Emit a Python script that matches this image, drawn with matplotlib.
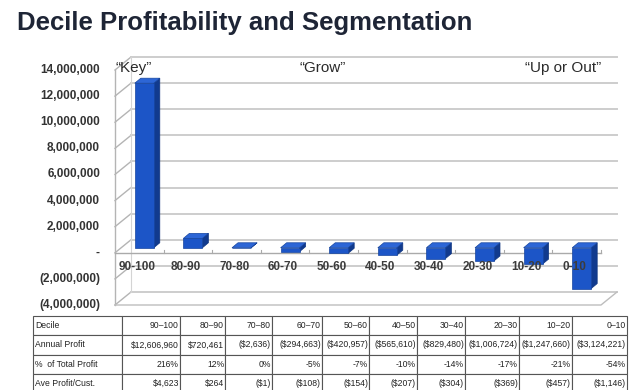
import numpy as np
import matplotlib
matplotlib.use("Agg")
import matplotlib.pyplot as plt
from matplotlib.patches import Polygon

plt.rcParams['font.family'] = ['Liberation Sans', 'DejaVu Sans']

# data
deciles = ["90-100", "80-90", "70-80", "60-70", "50-60", "40-50", "30-40", "20-30", "10-20", "0-10"]
profit = [12606960, 720461, -2636, -294663, -420957, -565610, -829480, -1006724, -1247660, -3124221]
pct_total = [216, 12, 0, -5, -7, -10, -14, -17, -21, -54]
ave_cust = [4623, 264, -1, -108, -154, -207, -304, -369, -457, -1146]
segments = ["\u201cKey\u201d", "\u201cGrow\u201d", "\u201cUp or Out\u201d"]
segment_pos = [0, 3.8, 8.44]
row_labels = ["Decile", "Annual Profit", "%  of Total Profit", "Ave Profit/Cust."]
y_ticks = [-4000000, -2000000, 0, 2000000, 4000000, 6000000, 8000000, 10000000, 12000000, 14000000]

W, H = 644, 390
fig = plt.figure(figsize=(W / 100, H / 100), dpi=100)


def box(l, t, r, b):
    return [l / W, 1 - b / H, (r - l) / W, (b - t) / H]


ax = fig.add_axes(box(115, 70, 601, 305))
ax.set_xlim(0, 10)
ax.set_ylim(-4e6, 14e6)
ax.axis("off")

# size of one pixel in data units
px_x = 10 / 486
px_y = 18e6 / 235

# back wall and floor
wx, wy = 16 * px_x, 13 * px_y
for v in y_ticks:
    ax.plot([0, wx], [v, v + wy], color="#b4b4b4", lw=1.0, clip_on=False, zorder=1)
    ax.plot([wx, 10 + wx], [v + wy, v + wy], color="#cdcdcd", lw=1.4, clip_on=False, zorder=1)
ax.plot([0, 0], [-4e6, 14e6], color="#b4b4b4", lw=1.0, clip_on=False, zorder=1)
ax.plot([wx, wx], [-4e6 + wy, 14e6 + wy], color="#d4d4d4", lw=0.8, clip_on=False, zorder=1)
ax.plot([0, 10, 10 + wx], [-4e6, -4e6, -4e6 + wy], color="#bdbdbd", lw=1.0, clip_on=False, zorder=1)

# category axis at zero
ax.plot([0, 10], [0, 0], color="#aaaaaa", lw=1.0, clip_on=False, zorder=2)
for k in range(1, 11):
    ax.plot([k, k], [0, 3 * px_y], color="#aaaaaa", lw=0.8, clip_on=False, zorder=2)

# pseudo 3d bars
bw = 19 * px_x
ox, oy = 5 * px_x, 5 * px_y
dx, dy = 6 * px_x, 5 * px_y
for i, v in enumerate(profit):
    x0 = i + 0.5 + ox - bw / 2
    lo, hi = min(0, v) + oy, max(0, v) + oy
    front = Polygon([(x0, lo), (x0 + bw, lo), (x0 + bw, hi), (x0, hi)], closed=True,
                    facecolor="#1c55c7", edgecolor="#16459f", lw=0.5, zorder=3, clip_on=False)
    top = Polygon([(x0, hi), (x0 + bw, hi), (x0 + bw + dx, hi + dy), (x0 + dx, hi + dy)], closed=True,
                  facecolor="#2d66d6", edgecolor="#16459f", lw=0.5, zorder=3, clip_on=False)
    side = Polygon([(x0 + bw, lo), (x0 + bw + dx, lo + dy), (x0 + bw + dx, hi + dy), (x0 + bw, hi)], closed=True,
                   facecolor="#113a8e", edgecolor="#0f3580", lw=0.5, zorder=3, clip_on=False)
    for p in (side, top, front):
        ax.add_patch(p)

# category labels
for i, c in enumerate(deciles):
    ax.text(i + 0.5 - 2 * px_x, -14 * px_y, c, ha="center", va="center", fontsize=8.5,
            fontweight="bold", color="#3c3c3c", zorder=5)


def fmt_axis(v):
    if v == 0:
        return "-"
    if v < 0:
        return "({:,})".format(-v)
    return "{:,}".format(v)


for v in y_ticks:
    ax.text(-15 * px_x, v, fmt_axis(v), ha="right", va="center", fontsize=8.5,
            fontweight="bold", color="#333333")

# segment names
for s, x in zip(segments, segment_pos):
    ax.text(x, 14.15e6, s, ha="left", va="center", fontsize=11, color="#2a2a2a")

fig.text(17 / W, 1 - 23 / H, "Decile Profitability and Segmentation", fontsize=18.5,
         fontweight="bold", color="#1e2536", va="center")


# table under the chart
def money(v):
    return "${:,}".format(v) if v >= 0 else "(${:,})".format(-v)


cells = [
    [row_labels[0]] + [d.replace("-", "\u2013") for d in deciles],
    [row_labels[1]] + [money(v) for v in profit],
    [row_labels[2]] + ["{}%".format(p) for p in pct_total],
    [row_labels[3]] + [money(v) for v in ave_cust],
]
col_w = [89, 58, 45, 47, 50, 47, 48, 48, 54, 53, 55]
tax = fig.add_axes(box(33, 316, 627, 393))
tax.axis("off")
tbl = tax.table(cellText=cells, colWidths=[w / sum(col_w) for w in col_w],
                bbox=[0, 0, 1, 1], cellLoc="right")
tbl.auto_set_font_size(False)
tbl.set_fontsize(6.2)
for (r, c), cell in tbl.get_celld().items():
    cell.set_edgecolor("#555555")
    cell.set_linewidth(0.8)
    cell.PAD = 0.02
    t = cell.get_text()
    t.set_color("#222222")
    if c == 0:
        t.set_ha("left")
        cell._loc = "left"

fig.savefig("out.png", dpi=100)
